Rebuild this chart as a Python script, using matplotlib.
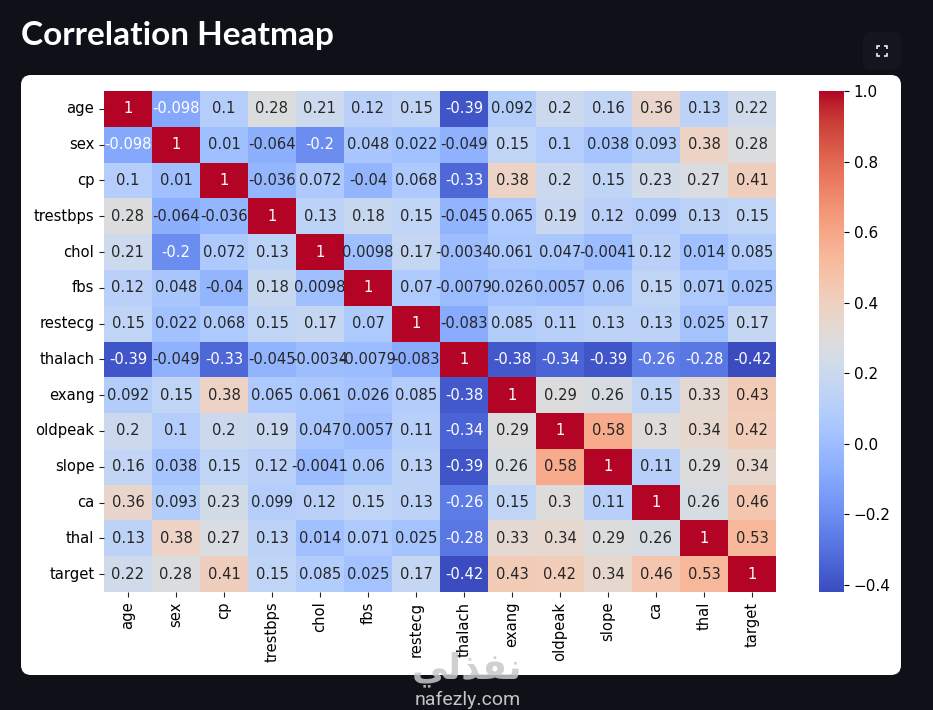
import numpy as np
import matplotlib
matplotlib.use("Agg")
import matplotlib.pyplot as plt
import seaborn as sns
from matplotlib.patches import FancyBboxPatch

plt.rcParams["font.family"] = ["DejaVu Sans"]

labels = ["age", "sex", "cp", "trestbps", "chol", "fbs", "restecg",
          "thalach", "exang", "oldpeak", "slope", "ca", "thal", "target"]

age = [1, -0.098, 0.1, 0.28, 0.21, 0.12, 0.15, -0.39, 0.092, 0.2, 0.16, 0.36, 0.13, 0.22]
sex = [-0.098, 1, 0.01, -0.064, -0.2, 0.048, 0.022, -0.049, 0.15, 0.1, 0.038, 0.093, 0.38, 0.28]
cp = [0.1, 0.01, 1, -0.036, 0.072, -0.04, 0.068, -0.33, 0.38, 0.2, 0.15, 0.23, 0.27, 0.41]
trestbps = [0.28, -0.064, -0.036, 1, 0.13, 0.18, 0.15, -0.045, 0.065, 0.19, 0.12, 0.099, 0.13, 0.15]
chol = [0.21, -0.2, 0.072, 0.13, 1, 0.0098, 0.17, -0.0034, 0.061, 0.047, -0.0041, 0.12, 0.014, 0.085]
fbs = [0.12, 0.048, -0.04, 0.18, 0.0098, 1, 0.07, -0.0079, 0.026, 0.0057, 0.06, 0.15, 0.071, 0.025]
restecg = [0.15, 0.022, 0.068, 0.15, 0.17, 0.07, 1, -0.083, 0.085, 0.11, 0.13, 0.13, 0.025, 0.17]
thalach = [-0.39, -0.049, -0.33, -0.045, -0.0034, -0.0079, -0.083, 1, -0.38, -0.34, -0.39, -0.26, -0.28, -0.42]
exang = [0.092, 0.15, 0.38, 0.065, 0.061, 0.026, 0.085, -0.38, 1, 0.29, 0.26, 0.15, 0.33, 0.43]
oldpeak = [0.2, 0.1, 0.2, 0.19, 0.047, 0.0057, 0.11, -0.34, 0.29, 1, 0.58, 0.3, 0.34, 0.42]
slope = [0.16, 0.038, 0.15, 0.12, -0.0041, 0.06, 0.13, -0.39, 0.26, 0.58, 1, 0.11, 0.29, 0.34]
ca = [0.36, 0.093, 0.23, 0.099, 0.12, 0.15, 0.13, -0.26, 0.15, 0.3, 0.11, 1, 0.26, 0.46]
thal = [0.13, 0.38, 0.27, 0.13, 0.014, 0.071, 0.025, -0.28, 0.33, 0.34, 0.29, 0.26, 1, 0.53]
target = [0.22, 0.28, 0.41, 0.15, 0.085, 0.025, 0.17, -0.42, 0.43, 0.42, 0.34, 0.46, 0.53, 1]

corr = np.array([age, sex, cp, trestbps, chol, fbs, restecg, thalach,
                 exang, oldpeak, slope, ca, thal, target])

W, H = 933, 710
BG = "#0e1117"


def px_axes(x0, y0, x1, y1):
    # pixel box measured from the top left of the screenshot
    return [x0 / W, 1 - y1 / H, (x1 - x0) / W, (y1 - y0) / H]


fig = plt.figure(figsize=(W / 100, H / 100), dpi=100, facecolor=BG)

# page layer: card, title, button
page = fig.add_axes([0, 0, 1, 1])
page.set_xlim(0, W)
page.set_ylim(H, 0)
page.axis("off")
page.add_patch(FancyBboxPatch((29, 83), 864, 584, boxstyle="round,pad=8,rounding_size=10",
                              fc="white", ec="none"))
page.add_patch(FancyBboxPatch((869, 38), 26, 26, boxstyle="round,pad=6,rounding_size=8",
                              fc="#13161e", ec="none"))
page.text(21, 36, "Correlation Heatmap", color="white", fontsize=24, fontweight="bold",
          family="Lato", va="center", ha="left")
# expand icon corners
for cx, cy, dx, dy in [(877, 46, 1, 1), (887, 46, -1, 1), (877, 56, 1, -1), (887, 56, -1, -1)]:
    page.plot([cx, cx, cx + 3 * dx], [cy + 3 * dy, cy, cy], color="white", lw=1.1,
              solid_capstyle="butt", solid_joinstyle="miter")

ax = fig.add_axes(px_axes(104, 91, 776, 592))
cax = fig.add_axes(px_axes(819, 91, 844, 592))
sns.heatmap(corr, annot=True, cmap="coolwarm", ax=ax, cbar_ax=cax,
            xticklabels=labels, yticklabels=labels, annot_kws={"fontsize": 10.6})
ax.tick_params(axis="both", labelsize=10.6, length=3.5, width=0.8, color="#222222")
ax.tick_params(axis="x", labelrotation=90)
ax.tick_params(axis="y", labelrotation=0)
cax.tick_params(labelsize=11, length=3.5, width=0.8)

# watermark sits over the chart
over = fig.add_axes([0, 0, 1, 1])
over.set_xlim(0, W)
over.set_ylim(H, 0)
over.axis("off")
over.patch.set_alpha(0)
over.text(467, 669, "\ufef2\ufedf\ufeac\ufed4\ufee7", color="#c8c8c8", alpha=0.85, fontsize=26,
          fontweight="bold", family="DejaVu Sans", ha="center", va="center")
over.text(468, 700, "nafezly.com", color="#c4c4c4", fontsize=14, family="Roboto",
          ha="center", va="center")

fig.savefig("out.png", dpi=100, facecolor=BG)
